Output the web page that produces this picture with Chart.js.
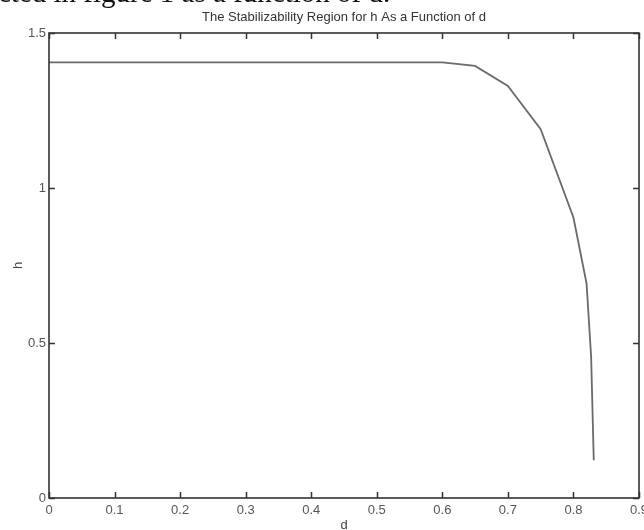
<!DOCTYPE html>
<html>
<head>
<meta charset="utf-8">
<script src="https://cdn.jsdelivr.net/npm/chart.js@4"></script>
<style>
  html, body { margin: 0; padding: 0; background: #fff; overflow: hidden; }
  #wrap { position: relative; width: 644px; height: 530px; overflow: hidden; }
  #cap { position: absolute; left: -2px; top: -22px; font: 29px 'Liberation Serif', 'Times New Roman', serif; line-height: 29px; color: #111; white-space: nowrap; }
  canvas { position: absolute; left: 0; top: 0; }
</style>
</head>
<body>
<div id="wrap">
  <canvas id="c" width="644" height="530"></canvas>
  <div id="cap">cted in figure 1 as a function of d.</div>
</div>
<script>
const titleText = 'The Stabilizability Region for h As a Function of d';
const xLabel = 'd';
const yLabel = 'h';
const xTicks = [0, 0.1, 0.2, 0.3, 0.4, 0.5, 0.6, 0.7, 0.8, 0.9];
const yTicks = [0, 0.5, 1, 1.5];
const dVals = [0, 0.1, 0.2, 0.3, 0.4, 0.5, 0.6, 0.65, 0.7, 0.75, 0.8, 0.82, 0.827, 0.831];
const hVals = [1.405, 1.405, 1.405, 1.405, 1.405, 1.405, 1.405, 1.394, 1.329, 1.19, 0.905, 0.692, 0.455, 0.122];

const points = dVals.map((d, i) => ({ x: d, y: hVals[i] }));
const FONT = "'Liberation Sans', Arial, sans-serif";

const frameTicks = {
  id: 'frameTicks',
  afterDatasetsDraw(chart) {
    const { ctx, chartArea: a, scales: { x, y } } = chart;
    ctx.save();
    ctx.strokeStyle = '#333';
    ctx.lineWidth = 1.5;
    const L = 6;
    ctx.beginPath();
    xTicks.forEach(v => {
      const px = Math.round(x.getPixelForValue(v)) + 0.5;
      ctx.moveTo(px, a.bottom); ctx.lineTo(px, a.bottom - L);
      ctx.moveTo(px, a.top); ctx.lineTo(px, a.top + L);
    });
    yTicks.forEach(v => {
      const py = Math.round(y.getPixelForValue(v)) + 0.5;
      ctx.moveTo(a.left, py); ctx.lineTo(a.left + L, py);
      ctx.moveTo(a.right, py); ctx.lineTo(a.right - L, py);
    });
    ctx.stroke();
    ctx.lineWidth = 1.6;
    ctx.strokeRect(a.left, a.top, a.right - a.left, a.bottom - a.top);
    ctx.restore();
  }
};

new Chart(document.getElementById('c'), {
  type: 'scatter',
  data: {
    datasets: [{
      data: points,
      showLine: true,
      borderColor: '#6a6a6a',
      borderWidth: 1.8,
      pointRadius: 0,
      tension: 0,
      fill: false
    }]
  },
  options: {
    responsive: false,
    animation: false,
    devicePixelRatio: 1,
    layout: { padding: { left: 0, right: 5, top: 0, bottom: 0 } },
    plugins: {
      legend: { display: false },
      tooltip: { enabled: false },
      title: {
        display: true,
        fullSize: false,
        text: titleText,
        color: '#333',
        font: { family: FONT, size: 13, weight: 'normal' },
        padding: { top: 10, bottom: 7.4 }
      }
    },
    scales: {
      x: {
        type: 'linear',
        min: 0, max: 0.9,
        afterBuildTicks: s => { s.ticks = xTicks.map(v => ({ value: v })); },
        afterFit: s => { s.height = 32; s.paddingLeft = 0; s.paddingRight = 0; },
        grid: { display: false, drawTicks: false, tickLength: 0 },
        border: { display: false },
        ticks: {
          color: '#555',
          padding: 5,
          maxRotation: 0,
          autoSkip: false,
          font: { family: FONT, size: 13 },
          callback: v => String(v)
        },
        title: {
          display: true, text: xLabel, color: '#444',
          font: { family: FONT, size: 13 },
          padding: { top: 0, bottom: -3 }
        }
      },
      y: {
        type: 'linear',
        min: 0, max: 1.5,
        afterBuildTicks: s => { s.ticks = yTicks.map(v => ({ value: v })); },
        afterFit: s => { s.width = 49; s.paddingTop = 0; s.paddingBottom = 0; },
        grid: { display: false, drawTicks: false, tickLength: 0 },
        border: { display: false },
        ticks: {
          color: '#555',
          padding: 3,
          autoSkip: false,
          font: { family: FONT, size: 13 },
          callback: v => String(v)
        },
        title: {
          display: true, text: yLabel, color: '#444',
          font: { family: FONT, size: 13 },
          padding: { top: 11, bottom: 0 }
        }
      }
    }
  },
  plugins: [frameTicks]
});
</script>
</body>
</html>
